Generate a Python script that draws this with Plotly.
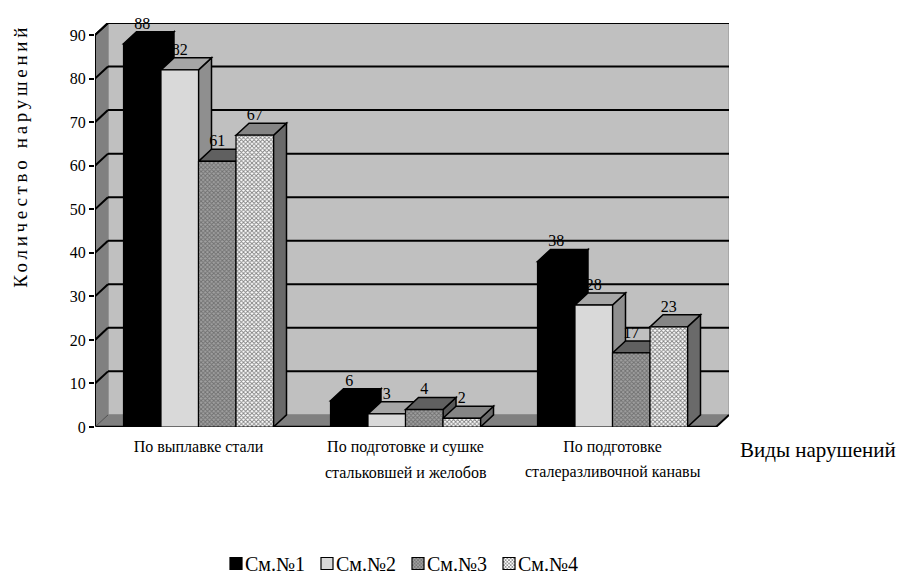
import plotly.graph_objects as go

categories_line1 = ["По выплавке стали", "По подготовке и сушке", "По подготовке"]
categories_line2 = ["", "стальковшей и желобов", "сталеразливочной канавы"]
series_names = ["См.№1", "См.№2", "См.№3", "См.№4"]
smena1 = [88, 6, 38]
smena2 = [82, 3, 28]
smena3 = [61, 4, 17]
smena4 = [67, 2, 23]
y_ticks = [0, 10, 20, 30, 40, 50, 60, 70, 80, 90]

series = [smena1, smena2, smena3, smena4]
FONT = "Liberation Serif"
W, H = 899, 574
L, R, T, B = 95, 729, 23, 427.5
px_x, px_y = 207.0, 4.36
x0 = -0.5
x_max = x0 + (R - L) / px_x
y_max = (B - T) / px_y
y_top = 90
dx = x_max - 2.5
dy = y_max - y_top
bar_w = 37.5 / 207
groups = [0, 1, 2]

front = ["#000000", "#d9d9d9", "#808080", "#a8a8a8"]
top = ["#000000", "#a6a6a6", "#606060", "#858585"]
side = ["#000000", "#8f8f8f", "#585858", "#6a6a6a"]
patterns = [None, None,
            dict(shape="x", size=3, solidity=0.5, fgcolor="#404040", bgcolor="#a0a0a0"),
            dict(shape="x", size=3, solidity=0.5, fgcolor="#000000", bgcolor="#ffffff")]


def page_x(px):
    return (px - L) / (R - L)


def page_y(py):
    return (B - py) / (B - T)


def poly(points, fill, line="#000000", width=1.5):
    path = "M " + " L ".join(f"{a:.4f},{b:.4f}" for a, b in points) + " Z"
    return dict(type="path", path=path, xref="x", yref="y", layer="below",
                fillcolor=fill, line=dict(color=line, width=width))


def seg(a, b, c, d, color="#000000", width=2):
    return dict(type="line", x0=a, y0=b, x1=c, y1=d, xref="x", yref="y",
                layer="below", line=dict(color=color, width=width))


shapes = [
    poly([(x0 + dx, dy), (x_max, dy), (x_max, y_max), (x0 + dx, y_max)], "#c0c0c0", "#909090", 1),
    poly([(x0, 0), (x0 + dx, dy), (x0 + dx, y_max), (x0, y_top)], "#808080", "#808080", 1),
    poly([(x0, 0), (x0 + dx, dy), (x_max, dy), (2.5, 0)], "#808080", "#808080", 1),
]
for v in y_ticks[1:]:
    shapes.append(seg(x0, v, x0 + dx, v + dy))
    shapes.append(seg(x0 + dx, v + dy, x_max, v + dy))
shapes.append(seg(x0 + dx, y_max, x_max, y_max))
shapes.append(seg(x0, y_top, x0 + dx, y_max))
shapes.append(seg(x0, 0, x0, y_top))
shapes.append(seg(x0, 0, 2.5, 0, width=2.5))
shapes.append(seg(2.5, 0, x_max, dy))
shapes.append(seg(x0 + dx, dy, x0, 0, "#505050", 1))

for g in groups:
    for i, vals in enumerate(series):
        v = vals[g]
        a = g + (i - 2) * bar_w
        b = a + bar_w
        shapes.append(poly([(b, 0), (b + dx, dy), (b + dx, v + dy), (b, v)], side[i]))
        shapes.append(poly([(a, v), (a + dx, v + dy), (b + dx, v + dy), (b, v)], top[i]))

fig = go.Figure()
legend_ids = ["legend", "legend2", "legend3", "legend4"]
for i, vals in enumerate(series):
    marker = dict(color=front[i], line=dict(color="#000000", width=1.2))
    if patterns[i]:
        marker["pattern"] = patterns[i]
    fig.add_trace(go.Bar(x=groups, y=vals, name=series_names[i], marker=marker, width=bar_w,
                         offset=(i - 2) * bar_w, hoverinfo="skip", legend=legend_ids[i],
                         showlegend=True))

label_offset = 4.4
for i, vals in enumerate(series):
    fig.add_trace(go.Scatter(
        x=[g + (i - 1.5) * bar_w for g in groups],
        y=[v + label_offset for v in vals],
        text=[str(v) for v in vals],
        mode="text", textposition="middle center",
        textfont=dict(family=FONT, size=16, color="#000000"),
        showlegend=False, hoverinfo="skip", cliponaxis=False))

annotations = [
    dict(text="Виды нарушений", x=page_x(818), y=page_y(451), xref="paper", yref="paper",
         xanchor="center", yanchor="middle",
         showarrow=False, font=dict(family=FONT, size=21, color="#000000")),
    dict(text="Количество нарушений", x=page_x(21), y=page_y(156), xref="paper", yref="paper",
         xanchor="center", yanchor="middle",
         textangle=-90, showarrow=False, font=dict(family=FONT, size=19, color="#000000")),
]
for g, t in zip(groups, categories_line2):
    if t:
        annotations.append(dict(text=t, x=g, y=page_y(473), xref="x", yref="paper", showarrow=False,
                                xanchor="center", yanchor="middle",
                                font=dict(family=FONT, size=16, color="#000000")))

fig.update_layout(
    width=W, height=H,
    margin=dict(l=L, r=W - R, t=T, b=H - B, pad=0, autoexpand=False),
    paper_bgcolor="#ffffff", plot_bgcolor="#ffffff",
    barmode="overlay",
    shapes=shapes, annotations=annotations,
    xaxis=dict(range=[x0, x_max], tickmode="array", tickvals=groups, ticktext=categories_line1,
               ticks="", showgrid=False, zeroline=False, showline=False, ticklabelstandoff=8,
               tickfont=dict(family=FONT, size=16, color="#000000")),
    yaxis=dict(range=[0, y_max], tickmode="array", tickvals=y_ticks, ticks="outside", ticklen=5,
               tickwidth=1.5, tickcolor="#000000", showgrid=False, zeroline=False, showline=False,
               tickfont=dict(family=FONT, size=16, color="#000000")),
)
legend_left = [216, 307, 398, 489]
for lid, lx in zip(legend_ids, legend_left):
    fig.update_layout({lid: dict(orientation="h", xref="container", x=lx / W, xanchor="left",
                                 yref="container", y=1 - 544 / H, yanchor="top",
                                 itemwidth=30, bgcolor="rgba(0,0,0,0)",
                                 font=dict(family=FONT, size=20, color="#000000"))})
post = """
document.body.style.margin = '0';
var st = document.createElement('style');
st.textContent = '.legendtext, .legend2text, .legend3text, .legend4text { transform: translateX(-11px); }';
document.head.appendChild(st);
document.querySelectorAll('.annotation-text').forEach(function (t) {
  if (t.textContent.indexOf('Количество') === 0) { t.style.letterSpacing = '3.7px'; }
});
"""
fig.write_html("out.html", post_script=post, config=dict(displayModeBar=False))
